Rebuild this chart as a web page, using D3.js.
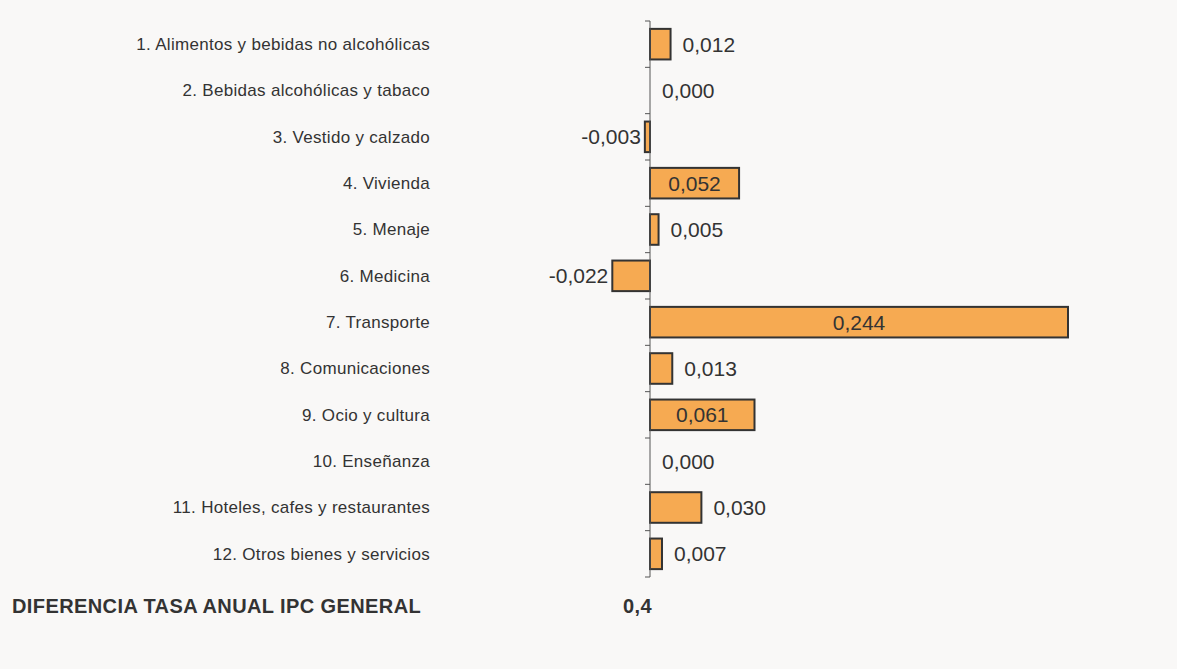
<!DOCTYPE html>
<html>
<head>
<meta charset="utf-8">
<script src="https://cdn.jsdelivr.net/npm/d3@7"></script>
<style>
  body { margin: 0; background: #f9f8f7; }
  svg { display: block; font-family: "Liberation Sans", Arial, sans-serif; }
  .cat { font-size: 17px; fill: #333; letter-spacing: 0.3px; }
  .val { font-size: 21px; fill: #333; }
  .total { font-size: 20px; font-weight: bold; fill: #333; letter-spacing: 0.4px; }
</style>
</head>
<body>
<svg id="chart" width="1177" height="669"></svg>
<script>
// data
const categories = [
  "1. Alimentos y bebidas no alcohólicas",
  "2. Bebidas alcohólicas y tabaco",
  "3. Vestido y calzado",
  "4. Vivienda",
  "5. Menaje",
  "6. Medicina",
  "7. Transporte",
  "8. Comunicaciones",
  "9. Ocio y cultura",
  "10. Enseñanza",
  "11. Hoteles, cafes y restaurantes",
  "12. Otros bienes y servicios"
];
const values = [0.012, 0.000, -0.003, 0.052, 0.005, -0.022, 0.244, 0.013, 0.061, 0.000, 0.030, 0.007];
const insideLabels = ["4. Vivienda", "7. Transporte", "9. Ocio y cultura"];
const totalLabel = "DIFERENCIA TASA ANUAL IPC GENERAL";
const totalValue = "0,4";

const svg = d3.select("#chart");
const fmt = v => (v < 0 ? "-" : "") + d3.format(".3f")(Math.abs(v)).replace(".", ",");

// scales
const x = d3.scaleLinear().domain([0, 0.244]).range([650, 1068]);
const y = d3.scaleBand().domain(categories).range([21, 577]).paddingInner(0.34).paddingOuter(0.17);

// bars
svg.append("g").selectAll("rect")
  .data(values.map((v, i) => ({ cat: categories[i], v })))
  .join("rect")
  .filter(d => d.v !== 0)
  .attr("x", d => x(Math.min(0, d.v)))
  .attr("y", d => y(d.cat))
  .attr("width", d => Math.abs(x(d.v) - x(0)))
  .attr("height", y.bandwidth())
  .attr("fill", "#f6aa52")
  .attr("stroke", "#333")
  .attr("stroke-width", 2);

// axis at zero
const band = y.step();
const ticks = d3.range(categories.length + 1).map(i => 21 + i * band);
const ax = svg.append("g");
ax.append("line")
  .attr("x1", x(0)).attr("x2", x(0))
  .attr("y1", 21).attr("y2", 577)
  .attr("stroke", "#555").attr("stroke-width", 1);
ax.selectAll(".tk").data(ticks).join("line")
  .attr("x1", x(0) - 5).attr("x2", x(0))
  .attr("y1", d => d).attr("y2", d => d)
  .attr("stroke", "#555");

// category labels
svg.append("g").selectAll("text")
  .data(categories)
  .join("text")
  .attr("class", "cat")
  .attr("x", 430)
  .attr("y", d => y(d) + y.bandwidth() / 2)
  .attr("dy", "0.35em")
  .attr("text-anchor", "end")
  .text(d => d);

// value labels
svg.append("g").selectAll("text")
  .data(values.map((v, i) => ({ cat: categories[i], v })))
  .join("text")
  .attr("class", "val")
  .attr("y", d => y(d.cat) + y.bandwidth() / 2)
  .attr("dy", "0.35em")
  .attr("x", d => insideLabels.includes(d.cat) ? (x(0) + x(d.v)) / 2
    : d.v < 0 ? x(d.v) - 4 : x(d.v) + 12)
  .attr("text-anchor", d => insideLabels.includes(d.cat) ? "middle" : d.v < 0 ? "end" : "start")
  .text(d => fmt(d.v));

// total row
svg.append("text").attr("class", "total")
  .attr("x", 12).attr("y", 606).attr("dy", "0.35em")
  .text(totalLabel);
svg.append("text").attr("class", "total")
  .attr("x", 652).attr("y", 606).attr("dy", "0.35em")
  .attr("text-anchor", "end")
  .text(totalValue);
</script>
</body>
</html>
